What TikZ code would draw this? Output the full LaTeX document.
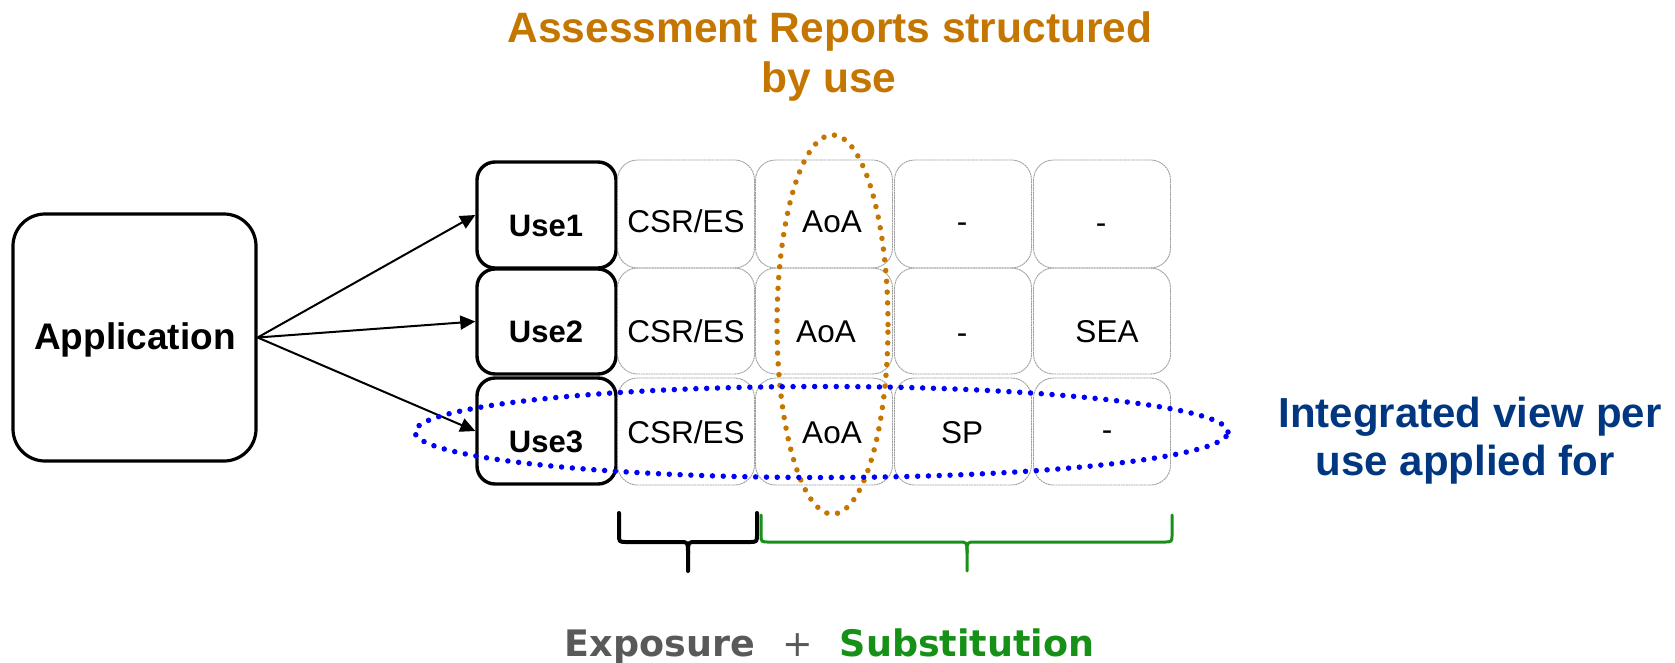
\documentclass[tikz,border=0pt]{standalone}
\usepackage{fontspec}
\setmainfont{Liberation Sans}
\newfontfamily\dejavu{DejaVu Sans}
\usetikzlibrary{arrows.meta}
\definecolor{ochre}{RGB}{197,118,0}
\definecolor{dotblue}{RGB}{0,0,250}
\definecolor{navy}{RGB}{0,55,128}
\definecolor{leaf}{RGB}{22,144,22}
\definecolor{expgray}{RGB}{89,89,89}
\begin{document}
\begin{tikzpicture}[x=1pt,y=-1pt,
  appbox/.style={draw=black, line width=3.2pt, rounded corners=32pt, minimum width=243pt, minimum height=247pt, inner sep=0pt},
  usebox/.style={draw=black, line width=3.4pt, rounded corners=18pt, minimum width=139pt, minimum height=106pt, inner sep=0pt},
  cellbox/.style={draw=gray!75, line width=0.9pt, dash pattern=on 2pt off 0.6pt, rounded corners=20pt, minimum width=137pt, minimum height=107pt, inner sep=0pt},
  celltxt/.style={anchor=base, inner sep=0pt, font=\fontsize{31.5}{36}\selectfont},
  usetxt/.style={anchor=base, inner sep=0pt, font=\bfseries\fontsize{31}{36}\selectfont},
  apptxt/.style={anchor=base, inner sep=0pt, font=\bfseries\fontsize{37}{42}\selectfont},
  titletxt/.style={anchor=base, inner sep=0pt, text=ochre, font=\bfseries\fontsize{42.5}{50}\selectfont},
  sidetxt/.style={anchor=base, inner sep=0pt, text=navy, font=\bfseries\fontsize{42}{48}\selectfont},
  bottxt/.style={anchor=base, inner sep=0pt, font=\dejavu\bfseries\fontsize{36.5}{42}\selectfont},
  arr/.style={line width=2pt, -{Triangle[length=15pt,width=14pt]}},
  dots/.style={line width=5.5pt, line cap=round, dash pattern=on 0pt off 10.8pt},
  bracepath/.style={line cap=round, line join=round}
]
\useasboundingbox (0,0) rectangle (1675,662);

% title
\node[titletxt] (title1) at (830,42) {Assessment Reports structured};
\node[titletxt] (title2) at (829,92) {by use};

% application
\node[appbox] (app) at (134.5,337.5) {};
\node[apptxt] (apptext) at (135,349) {Application};

% use boxes
\node[usebox] (u1) at (546.5,215) {};
\node[usebox, minimum height=105pt] (u2) at (546.5,321.5) {};
\node[usebox] (u3) at (546.5,431) {};
\node[usetxt] (u1t) at (546,236) {Use1};
\node[usetxt] (u2t) at (546,342.5) {Use2};
\node[usetxt] (u3t) at (546,452.5) {Use3};

% cells
\node[cellbox, minimum height=108pt] (c11) at (686,214) {};
\node[cellbox, minimum height=108pt] (c12) at (824,214) {};
\node[cellbox, minimum height=108pt] (c13) at (963,214) {};
\node[cellbox, minimum height=108pt] (c14) at (1102,214) {};
\node[cellbox, minimum height=106pt] (c21) at (686,321) {};
\node[cellbox, minimum height=106pt] (c22) at (824,321) {};
\node[cellbox, minimum height=106pt] (c23) at (963,321) {};
\node[cellbox, minimum height=106pt] (c24) at (1102,321) {};
\node[cellbox] (c31) at (686,431.5) {};
\node[cellbox] (c32) at (824,431.5) {};
\node[cellbox] (c33) at (963,431.5) {};
\node[cellbox] (c34) at (1102,431.5) {};

\node[celltxt] (t11) at (686,232) {CSR/ES};
\node[celltxt] (t12) at (832,232) {AoA};
\node[celltxt] (t13) at (962,232) {-};
\node[celltxt] (t14) at (1101,233) {-};
\node[celltxt] (t21) at (686,342.5) {CSR/ES};
\node[celltxt] (t22) at (826,342.5) {AoA};
\node[celltxt] (t23) at (962,343) {-};
\node[celltxt] (t24) at (1107,342.5) {SEA};
\node[celltxt] (t31) at (686,443.5) {CSR/ES};
\node[celltxt] (t32) at (832,443.5) {AoA};
\node[celltxt] (t33) at (962,443) {SP};
\node[celltxt] (t34) at (1107,440) {-};

% arrows
\draw[arr] (app.east) -- (u1.west);
\draw[arr] (app.east) -- (u2.west);
\draw[arr] (app.east) -- (u3.west);

% ellipses
\draw[dots, ochre] (832.5,324.5) ellipse [x radius=55.5pt, y radius=189.5pt];
\draw[dots, dotblue] (821.5,432) ellipse [x radius=406.5pt, y radius=45.5pt];

% side text
\node[sidetxt] (side1) at (1470,427) {Integrated view per};
\node[sidetxt] (side2) at (1465,475) {use applied for};

% braces
\draw[bracepath, black, line width=4pt]
  (619,513) -- (619,534) .. controls (619,542) .. (627,542) -- (680,542)
  .. controls (688,542) .. (688,553) -- (688,571);
\draw[bracepath, black, line width=4pt]
  (757,513) -- (757,534) .. controls (757,542) .. (749,542) -- (696,542)
  .. controls (688,542) .. (688,553);
\draw[bracepath, leaf, line width=3pt]
  (761,515) -- (761,534) .. controls (761,542) .. (769,542) -- (959,542)
  .. controls (967,542) .. (967,553) -- (967,571);
\draw[bracepath, leaf, line width=3pt]
  (1172,515) -- (1172,534) .. controls (1172,542) .. (1164,542) -- (975,542)
  .. controls (967,542) .. (967,553);

% bottom text
\node[bottxt, text=expgray] (expo) at (660,656) {Exposure};
\node[bottxt, text=expgray, font=\dejavu\fontsize{36.5}{42}\selectfont] (plus) at (798,656) {+};
\node[bottxt, text=leaf] (subst) at (967,656) {Substitution};
\end{tikzpicture}
\end{document}
